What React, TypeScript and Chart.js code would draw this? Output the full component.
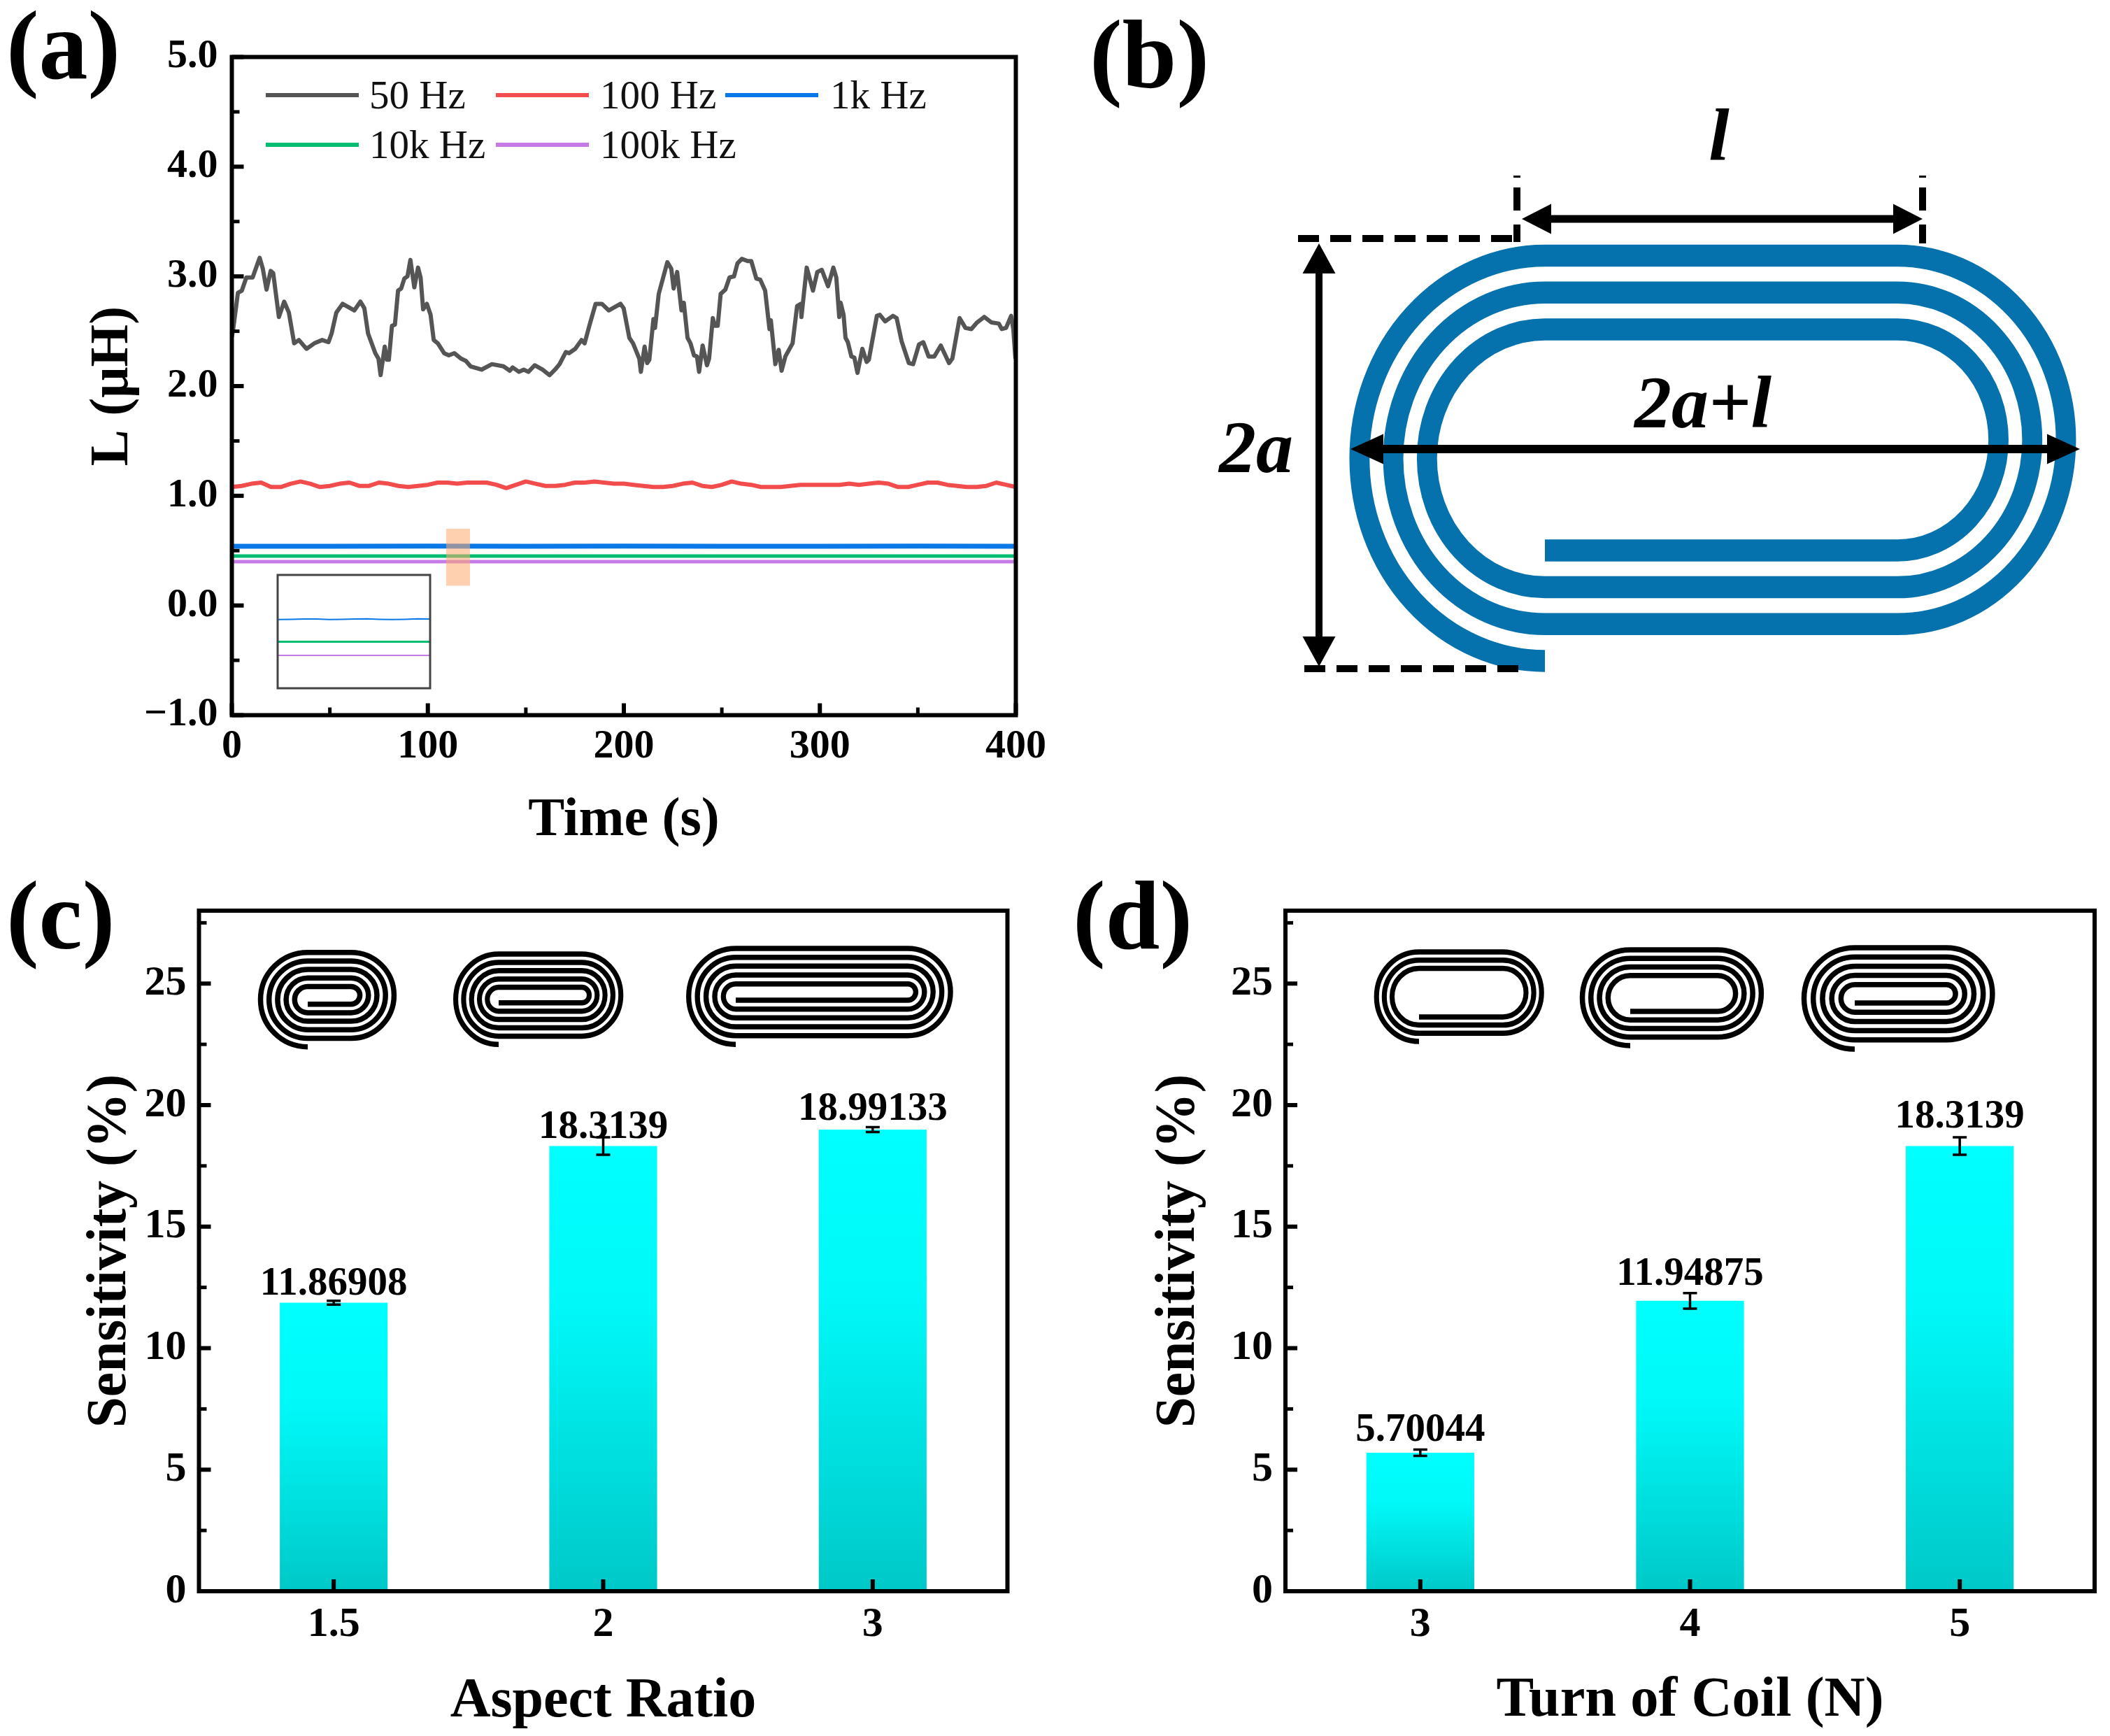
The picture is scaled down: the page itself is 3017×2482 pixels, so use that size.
import React, { useEffect, useRef } from "react";
import { Chart, registerables } from "chart.js";

Chart.register(...registerables);

const SERIF = '"Liberation Serif"';
const PAGE_W = 3017;
const PAGE_H = 2482;

// ---------- panel (a) data ----------
const seriesNames = ["50 Hz", "100 Hz", "1k Hz", "10k Hz", "100k Hz"];
const seriesColors = ["#555555", "#f24c4c", "#0a78e6", "#00bd72", "#c67ae6"];

const time50 = [0, 0.7, 3.1, 5.1, 7.4, 10.6, 14.2, 15.8, 17.7, 19.8, 21.1, 24, 26.7, 29.1, 31.8, 34.2, 38.1, 42.1, 46.1, 49.3, 50.9, 53.3, 56.5, 62.5, 65.6, 67.6, 69.5, 73.2, 74.8, 75.9, 78, 79.1, 80.1, 81.7, 83.2, 84.8, 86.4, 88, 89.6, 91.1, 93.1, 95, 96.3, 97.6, 99.5, 101.4, 103, 105.1, 108.3, 110.7, 113.5, 117, 119.4, 121.8, 127.4, 132.7, 138.6, 141.8, 143.3, 146.5, 148.9, 151.3, 154.5, 158.5, 162.1, 164.9, 167.2, 170.4, 172, 175.2, 178.4, 180, 182.4, 185.6, 188.8, 192.3, 198.3, 199.9, 202.8, 204.7, 207.9, 208.7, 210.6, 211.9, 213, 215.1, 215.9, 217.8, 222.2, 224.2, 225.4, 227.2, 229.4, 230.6, 232.5, 234, 235.8, 237.3, 238.4, 240.2, 242.4, 243.5, 245.4, 246.4, 247.9, 249.4, 251.8, 253.9, 256.2, 258, 260.2, 263.2, 265, 267.6, 269.6, 272.1, 274.3, 275, 277.3, 279, 280.5, 282.4, 286.1, 288.4, 290.3, 290.6, 293.3, 296.5, 298.7, 301, 304.2, 306.9, 308.4, 309.9, 310.6, 312.1, 313.1, 314.3, 316.1, 317.6, 319.2, 321.7, 323.9, 325, 329.1, 330.6, 333.3, 337.3, 339.2, 341.7, 345.4, 347.6, 350.6, 352.8, 355.5, 358.4, 361.7, 365.9, 367.6, 371.3, 374.3, 377.3, 380.2, 383.9, 387.6, 391.3, 392.8, 395, 397.6, 398.7, 399.8];
const l50 = [2.45, 2.52, 2.85, 2.87, 2.99, 2.99, 3.17, 3.07, 2.88, 3.05, 3.03, 2.63, 2.77, 2.67, 2.39, 2.42, 2.34, 2.39, 2.42, 2.4, 2.48, 2.67, 2.75, 2.69, 2.77, 2.71, 2.48, 2.3, 2.25, 2.1, 2.36, 2.24, 2.24, 2.55, 2.56, 2.87, 2.89, 2.98, 3, 3.15, 2.9, 3.08, 2.99, 2.7, 2.75, 2.65, 2.42, 2.39, 2.3, 2.28, 2.3, 2.25, 2.23, 2.18, 2.15, 2.2, 2.18, 2.14, 2.17, 2.13, 2.15, 2.13, 2.19, 2.15, 2.1, 2.15, 2.2, 2.31, 2.3, 2.34, 2.42, 2.39, 2.55, 2.75, 2.75, 2.69, 2.75, 2.71, 2.44, 2.39, 2.25, 2.13, 2.36, 2.21, 2.24, 2.61, 2.53, 2.84, 3.13, 3.07, 2.89, 3.04, 2.69, 2.76, 2.44, 2.39, 2.28, 2.27, 2.13, 2.37, 2.19, 2.25, 2.62, 2.55, 2.55, 2.84, 2.88, 2.99, 3, 3.12, 3.16, 3.14, 3.14, 2.98, 2.97, 2.87, 2.52, 2.6, 2.2, 2.33, 2.14, 2.27, 2.39, 2.73, 2.75, 2.63, 3.08, 2.87, 3.04, 3.06, 2.91, 3.08, 2.99, 2.63, 2.76, 2.65, 2.44, 2.4, 2.27, 2.26, 2.12, 2.34, 2.22, 2.24, 2.64, 2.65, 2.59, 2.64, 2.62, 2.41, 2.21, 2.2, 2.38, 2.4, 2.27, 2.27, 2.37, 2.21, 2.25, 2.62, 2.53, 2.52, 2.58, 2.63, 2.58, 2.57, 2.52, 2.53, 2.64, 2.52, 2.25];

const time100 = [0, 5, 10, 15, 20, 25, 30, 35, 40, 45, 50, 55, 60, 65, 70, 75, 80, 85, 90, 95, 100, 105, 110, 115, 120, 125, 130, 135, 140, 145, 150, 155, 160, 165, 170, 175, 180, 185, 190, 195, 200, 205, 210, 215, 220, 225, 230, 235, 240, 245, 250, 255, 260, 265, 270, 275, 280, 285, 290, 295, 300, 305, 310, 315, 320, 325, 330, 335, 340, 345, 350, 355, 360, 365, 370, 375, 380, 385, 390, 395, 400];
const l100 = [1.08, 1.09, 1.11, 1.12, 1.08, 1.08, 1.11, 1.13, 1.11, 1.08, 1.09, 1.11, 1.12, 1.09, 1.09, 1.12, 1.11, 1.09, 1.08, 1.09, 1.1, 1.12, 1.12, 1.11, 1.12, 1.12, 1.12, 1.1, 1.07, 1.1, 1.13, 1.11, 1.09, 1.09, 1.1, 1.12, 1.12, 1.13, 1.12, 1.11, 1.11, 1.1, 1.09, 1.08, 1.08, 1.09, 1.11, 1.12, 1.09, 1.08, 1.1, 1.13, 1.11, 1.1, 1.08, 1.08, 1.08, 1.09, 1.1, 1.1, 1.1, 1.1, 1.1, 1.11, 1.1, 1.11, 1.12, 1.11, 1.08, 1.08, 1.1, 1.12, 1.12, 1.1, 1.09, 1.08, 1.08, 1.09, 1.12, 1.1, 1.08];

const timeFlat = [0, 50, 100, 150, 200, 250, 300, 350, 400];
const l1k = [0.54, 0.54, 0.541, 0.54, 0.541, 0.54, 0.54, 0.541, 0.54];
const l10k = [0.45, 0.45, 0.45, 0.451, 0.45, 0.45, 0.451, 0.45, 0.45];
const l100k = [0.4, 0.4, 0.4, 0.4, 0.4, 0.4, 0.4, 0.4, 0.4];

const insetTime = [109.4, 110.5, 111.5, 112.5, 113.5, 114.5, 115.5, 116.5, 117.5, 118.5, 119.5, 120.5, 121.5];
const inset1k = [0.5385, 0.5395, 0.541, 0.5405, 0.5385, 0.5395, 0.5405, 0.5412, 0.5395, 0.5385, 0.5395, 0.5412, 0.5405];
const inset10k = [0.4525, 0.4525, 0.4525, 0.4525, 0.4525, 0.4525, 0.4525, 0.4525, 0.4525, 0.4525, 0.4525, 0.4525, 0.4525];
const inset100k = [0.4, 0.4, 0.4, 0.4, 0.4, 0.4, 0.4, 0.4, 0.4, 0.4, 0.4, 0.4, 0.4];

const aXMinor = [50, 150, 250, 350];
const aYMinor = [-0.5, 0.5, 1.5, 2.5, 3.5, 4.5];
const highlightT = [109.4, 121.5];
const highlightL = [0.18, 0.7];

// ---------- panels (c) and (d) data ----------
const aspectLabels = ["1.5", "2", "3"];
const aspectValues = [11.86908, 18.3139, 18.99133];
const aspectErrors = [0.08, 0.36, 0.1];
const turnLabels = ["3", "4", "5"];
const turnValues = [5.70044, 11.94875, 18.3139];
const turnErrors = [0.13, 0.32, 0.36];
const barYMinor = [2.5, 7.5, 12.5, 17.5, 22.5, 27.5];

type Box = { left: number; right: number; top: number; bottom: number; yW: number; xH: number };

const font = (size: number, weight = "bold", style = "normal") => ({ family: SERIF, size, weight, style, lineHeight: 1.2 });

function layoutOf(b: Box) {
  return {
    autoPadding: false,
    padding: {
      left: b.left - b.yW,
      top: b.top,
      right: PAGE_W - b.right,
      bottom: PAGE_H - b.bottom - b.xH,
    },
  };
}

function frameTicks(xMinor: number[], yMinor: number[]) {
  return {
    id: "frameTicks",
    afterDatasetsDraw(chart: any) {
      const { ctx, chartArea: a, scales } = chart;
      ctx.save();
      ctx.strokeStyle = "#000";
      ctx.lineCap = "butt";
      const tick = (x1: number, y1: number, x2: number, y2: number, w: number) => {
        ctx.lineWidth = w;
        ctx.beginPath();
        ctx.moveTo(x1, y1);
        ctx.lineTo(x2, y2);
        ctx.stroke();
      };
      scales.y.ticks.forEach((_: any, i: number) => {
        const p = scales.y.getPixelForTick(i);
        tick(a.left, p, a.left + 17, p, 6);
      });
      yMinor.forEach((v) => {
        const p = scales.y.getPixelForValue(v);
        tick(a.left, p, a.left + 11, p, 5);
      });
      scales.x.ticks.forEach((_: any, i: number) => {
        const p = scales.x.getPixelForTick(i);
        tick(p, a.bottom, p, a.bottom - 17, 6);
      });
      xMinor.forEach((v) => {
        const p = scales.x.getPixelForValue(v);
        tick(p, a.bottom, p, a.bottom - 11, 5);
      });
      ctx.lineWidth = 6;
      ctx.strokeRect(a.left, a.top, a.right - a.left, a.bottom - a.top);
      ctx.restore();
    },
  };
}

const legendPlugin = {
  id: "inlineLegend",
  afterDatasetsDraw(chart: any) {
    const { ctx } = chart;
    const spots = [
      [380, 136, 528],
      [709, 136, 858],
      [1037, 136, 1187],
      [380, 207, 528],
      [709, 207, 858],
    ];
    ctx.save();
    ctx.font = `normal 57px ${SERIF}`;
    ctx.textBaseline = "middle";
    ctx.textAlign = "left";
    chart.data.datasets.forEach((d: any, i: number) => {
      const [x, y, tx] = spots[i];
      ctx.strokeStyle = d.borderColor;
      ctx.lineWidth = 6;
      ctx.beginPath();
      ctx.moveTo(x, y);
      ctx.lineTo(x + 133, y);
      ctx.stroke();
      ctx.fillStyle = "#111";
      ctx.fillText(d.label, tx, y + 4);
    });
    ctx.restore();
  },
};

const highlightPlugin = {
  id: "highlight",
  afterDatasetsDraw(chart: any) {
    const { ctx, scales } = chart;
    const x1 = scales.x.getPixelForValue(highlightT[0]);
    const x2 = scales.x.getPixelForValue(highlightT[1]);
    const y1 = scales.y.getPixelForValue(highlightL[1]);
    const y2 = scales.y.getPixelForValue(highlightL[0]);
    ctx.save();
    ctx.fillStyle = "rgba(253,170,110,0.55)";
    ctx.fillRect(x1, y1, x2 - x1, y2 - y1);
    ctx.restore();
  },
};

function barExtras(errors: number[], gaps: number[], fromError: boolean) {
  return {
    id: "barExtras",
    afterDatasetsDraw(chart: any) {
      const { ctx, scales } = chart;
      const values = chart.data.datasets[0].data as number[];
      ctx.save();
      ctx.strokeStyle = "#000";
      ctx.fillStyle = "#000";
      values.forEach((v, i) => {
        const x = scales.x.getPixelForValue(i);
        const hi = scales.y.getPixelForValue(v + errors[i]);
        const lo = scales.y.getPixelForValue(v - errors[i]);
        ctx.lineWidth = 3.5;
        ctx.beginPath();
        ctx.moveTo(x, hi);
        ctx.lineTo(x, lo);
        ctx.moveTo(x - 10, hi);
        ctx.lineTo(x + 10, hi);
        ctx.moveTo(x - 10, lo);
        ctx.lineTo(x + 10, lo);
        ctx.stroke();
        ctx.font = `bold 57px ${SERIF}`;
        ctx.textAlign = "center";
        ctx.textBaseline = "alphabetic";
        const anchor = fromError ? hi : scales.y.getPixelForValue(v);
        ctx.fillText(String(v), x, anchor - gaps[i]);
      });
      ctx.restore();
    },
  };
}

function barGradient(c: any) {
  const chart = c.chart;
  const fallback = "#00ffff";
  if (!chart.chartArea || c.dataIndex === undefined) return fallback;
  const v = c.dataset.data[c.dataIndex];
  const top = chart.scales.y.getPixelForValue(v);
  const base = chart.scales.y.getPixelForValue(0);
  if (!Number.isFinite(top) || !Number.isFinite(base)) return fallback;
  const g = chart.ctx.createLinearGradient(0, top, 0, base);
  g.addColorStop(0, "#00ffff");
  g.addColorStop(0.36, "#00f8f8");
  g.addColorStop(1, "#00c8c8");
  return g;
}

type Coil = { xl: number; xr: number; top: number; endY: number; pitch: number; turns: number; xs: number; lw: number };

function drawCoil(ctx: CanvasRenderingContext2D, c: Coil, color: string) {
  ctx.save();
  ctx.scale(c.xs, 1);
  const xl = c.xl / c.xs;
  const xr = c.xr / c.xs;
  ctx.strokeStyle = color;
  ctx.lineWidth = c.lw;
  ctx.lineCap = "butt";
  ctx.lineJoin = "round";
  ctx.beginPath();
  ctx.moveTo(xl, c.endY);
  for (let k = 0; k < c.turns; k++) {
    const bPrev = c.endY - k * c.pitch;
    const t = c.top + k * c.pitch;
    ctx.arc(xl, (bPrev + t) / 2, (bPrev - t) / 2, Math.PI / 2, (3 * Math.PI) / 2);
    ctx.lineTo(xr, t);
    const b = c.endY - (k + 1) * c.pitch;
    ctx.arc(xr, (b + t) / 2, (b - t) / 2, -Math.PI / 2, Math.PI / 2);
    ctx.lineTo(xl, b);
  }
  ctx.stroke();
  ctx.restore();
}

function coilsPlugin(coils: Coil[]) {
  return {
    id: "coils",
    afterDraw(chart: any) {
      coils.forEach((c) => drawCoil(chart.ctx, c, "#000"));
    },
  };
}

function arrow(ctx: CanvasRenderingContext2D, x1: number, y1: number, x2: number, y2: number, lw: number, hl: number, hw: number) {
  const a = Math.atan2(y2 - y1, x2 - x1);
  const ux = Math.cos(a);
  const uy = Math.sin(a);
  ctx.lineWidth = lw;
  ctx.beginPath();
  ctx.moveTo(x1 + ux * hl * 0.8, y1 + uy * hl * 0.8);
  ctx.lineTo(x2 - ux * hl * 0.8, y2 - uy * hl * 0.8);
  ctx.stroke();
  const head = (x: number, y: number, dx: number, dy: number) => {
    ctx.beginPath();
    ctx.moveTo(x, y);
    ctx.lineTo(x - dx * hl - dy * hw * 0.5, y - dy * hl + dx * hw * 0.5);
    ctx.lineTo(x - dx * hl + dy * hw * 0.5, y - dy * hl - dx * hw * 0.5);
    ctx.closePath();
    ctx.fill();
  };
  head(x2, y2, ux, uy);
  head(x1, y1, -ux, -uy);
}

const diagramPlugin = {
  id: "diagram",
  afterDraw(chart: any) {
    const ctx: CanvasRenderingContext2D = chart.ctx;
    ctx.save();
    ctx.fillStyle = "#000";
    ctx.textAlign = "left";
    ctx.textBaseline = "alphabetic";
    ctx.font = `bold 140px ${SERIF}`;
    ctx.fillText("(a)", 9, 112);
    ctx.fillText("(b)", 1558, 125);
    ctx.fillText("(c)", 9, 1356);
    ctx.fillText("(d)", 1534, 1356);

    drawCoil(ctx, { xl: 2209, xr: 2713, top: 365.5, endY: 945, pitch: 52.7, turns: 3, xs: 0.915, lw: 31.5 }, "#0571ad");

    ctx.strokeStyle = "#000";
    const dashed = (x1: number, y1: number, x2: number, y2: number, pattern: number[]) => {
      ctx.lineWidth = 10;
      ctx.setLineDash(pattern);
      ctx.beginPath();
      ctx.moveTo(x1, y1);
      ctx.lineTo(x2, y2);
      ctx.stroke();
      ctx.setLineDash([]);
    };
    dashed(1856, 341, 2173, 341, [30, 16]);
    dashed(1865, 956, 2173, 956, [30, 16]);
    dashed(2169, 251, 2169, 346, [3, 14, 33, 20, 30]);
    dashed(2749, 251, 2749, 348, [3, 14, 33, 20, 30]);
    arrow(ctx, 1886, 348, 1886, 953, 10, 43, 47);
    arrow(ctx, 2176, 313, 2749, 313, 11, 42, 43);
    arrow(ctx, 1931, 642, 2974, 642, 12, 47, 43);

    ctx.font = `italic bold 106px ${SERIF}`;
    ctx.textAlign = "center";
    ctx.fillText("l", 2458, 229);
    ctx.fillText("2a+l", 2435, 611);
    ctx.fillText("2a", 1796, 675);
    ctx.restore();
  },
};

const coilsC: Coil[] = [
  { xl: 440, xr: 502, top: 1361.7, endY: 1496.7, pitch: 12.2, turns: 5, xs: 1, lw: 7.5 },
  { xl: 713, xr: 832, top: 1364, endY: 1493.3, pitch: 11.9, turns: 5, xs: 0.95, lw: 7.5 },
  { xl: 1052, xr: 1298, top: 1356, endY: 1493.3, pitch: 12.66, turns: 5, xs: 0.98, lw: 7.5 },
];
const coilsD: Coil[] = [
  { xl: 2029, xr: 2149, top: 1361, endY: 1489, pitch: 11.7, turns: 3, xs: 0.95, lw: 7.5 },
  { xl: 2331, xr: 2456, top: 1358, endY: 1495, pitch: 12.25, turns: 4, xs: 1, lw: 7.5 },
  { xl: 2652, xr: 2783, top: 1355, endY: 1500, pitch: 13.2, turns: 5, xs: 1, lw: 7.5 },
];

function barChart(canvas: HTMLCanvasElement, box: Box, labels: string[], values: number[], errors: number[], gaps: number[], fromError: boolean, xTitle: string, xTitleSize: number, yTitlePad: number, coils: Coil[]) {
  return new Chart(canvas, {
    type: "bar",
    data: {
      labels,
      datasets: [{ data: values, backgroundColor: barGradient as any, borderWidth: 0, categoryPercentage: 1, barPercentage: 0.4 }],
    },
    plugins: [barExtras(errors, gaps, fromError), frameTicks([], barYMinor), coilsPlugin(coils)] as any,
    options: {
      animation: false,
      responsive: false,
      maintainAspectRatio: false,
      devicePixelRatio: 1,
      events: [],
      layout: layoutOf(box) as any,
      plugins: { legend: { display: false }, tooltip: { enabled: false } },
      scales: {
        x: {
          type: "category",
          offset: true,
          afterFit: (s: any) => { s.height = box.xH; },
          grid: { display: false },
          border: { display: false },
          ticks: { color: "#000", font: font(60), padding: 4, maxRotation: 0, autoSkip: false },
          title: { display: true, text: xTitle, color: "#000", font: font(xTitleSize), padding: { top: 0, bottom: 1 } },
        },
        y: {
          type: "linear",
          min: 0,
          max: 28,
          afterFit: (s: any) => { s.width = box.yW; },
          grid: { display: false },
          border: { display: false },
          ticks: { stepSize: 5, includeBounds: false, color: "#000", font: font(60), padding: 10, autoSkip: false } as any,
          title: { display: true, text: "Sensitivity (%)", color: "#000", font: font(79.5), padding: { top: yTitlePad, bottom: 0 } },
        },
      },
    },
  } as any);
}

export default function App() {
  const aRef = useRef<HTMLCanvasElement>(null);
  const insetRef = useRef<HTMLCanvasElement>(null);
  const bRef = useRef<HTMLCanvasElement>(null);
  const cRef = useRef<HTMLCanvasElement>(null);
  const dRef = useRef<HTMLCanvasElement>(null);

  useEffect(() => {
    const zip = (xs: number[], ys: number[]) => xs.map((x, i) => ({ x, y: ys[i] }));
    const line = (i: number, xs: number[], ys: number[], w: number) => ({
      label: seriesNames[i],
      data: zip(xs, ys),
      borderColor: seriesColors[i],
      borderWidth: w,
      borderJoinStyle: "round",
      pointRadius: 0,
      tension: 0,
      fill: false,
    });

    const boxA: Box = { left: 331.5, right: 1452.5, top: 81.5, bottom: 1022.5, yW: 300, xH: 220 };
    const chartA = new Chart(aRef.current!, {
      type: "line",
      data: {
        datasets: [
          line(0, time50, l50, 6),
          line(1, time100, l100, 6),
          line(2, timeFlat, l1k, 7),
          line(3, timeFlat, l10k, 5),
          line(4, timeFlat, l100k, 5),
        ],
      },
      plugins: [highlightPlugin, legendPlugin, frameTicks(aXMinor, aYMinor)] as any,
      options: {
        animation: false,
        responsive: false,
        maintainAspectRatio: false,
        devicePixelRatio: 1,
        events: [],
        layout: layoutOf(boxA) as any,
        plugins: { legend: { display: false }, tooltip: { enabled: false } },
        scales: {
          x: {
            type: "linear",
            min: 0,
            max: 400,
            afterFit: (s: any) => { s.height = boxA.xH; },
            grid: { display: false },
            border: { display: false },
            ticks: { stepSize: 100, color: "#000", font: font(58), padding: 3, maxRotation: 0, autoSkip: false },
            title: { display: true, text: "Time (s)", color: "#000", font: font(78), padding: { top: 0, bottom: 22 } },
          },
          y: {
            type: "linear",
            min: -1,
            max: 5,
            afterFit: (s: any) => { s.width = boxA.yW; },
            grid: { display: false },
            border: { display: false },
            ticks: {
              stepSize: 1,
              color: "#000",
              font: font(58),
              padding: 12,
              autoSkip: false,
              callback: (v: any) => (v < 0 ? "\u2212" + Math.abs(v).toFixed(1) : Number(v).toFixed(1)),
            },
            title: { display: true, text: "L (\u03bcH)", color: "#000", font: font(78), padding: { top: 84, bottom: 0 } },
          },
        },
      },
    } as any);

    const insetLine = (i: number, ys: number[], w: number) => line(i, insetTime, ys, w);
    const chartInset = new Chart(insetRef.current!, {
      type: "line",
      data: { datasets: [insetLine(2, inset1k, 2), insetLine(3, inset10k, 3), insetLine(4, inset100k, 2)] },
      plugins: [
        {
          id: "insetFrame",
          afterDatasetsDraw(chart: any) {
            const { ctx, chartArea: a } = chart;
            ctx.save();
            ctx.strokeStyle = "#444";
            ctx.lineWidth = 3;
            ctx.strokeRect(a.left, a.top, a.right - a.left, a.bottom - a.top);
            ctx.restore();
          },
        },
      ] as any,
      options: {
        animation: false,
        responsive: false,
        maintainAspectRatio: false,
        devicePixelRatio: 1,
        events: [],
        layout: { autoPadding: false, padding: { left: 397, top: 822, right: PAGE_W - 615, bottom: PAGE_H - 984 } },
        plugins: { legend: { display: false }, tooltip: { enabled: false } },
        scales: {
          x: { type: "linear", display: false, min: 109.4, max: 121.5 },
          y: { type: "linear", display: false, min: 0.273, max: 0.711 },
        },
      },
    } as any);

    const chartB = new Chart(bRef.current!, {
      type: "scatter",
      data: { datasets: [] },
      plugins: [diagramPlugin] as any,
      options: {
        animation: false,
        responsive: false,
        maintainAspectRatio: false,
        devicePixelRatio: 1,
        events: [],
        plugins: { legend: { display: false }, tooltip: { enabled: false } },
        scales: { x: { display: false }, y: { display: false } },
      },
    } as any);

    const boxC: Box = { left: 284.5, right: 1440.5, top: 1302, bottom: 2275, yW: 260, xH: 207 };
    const chartC = barChart(cRef.current!, boxC, aspectLabels, aspectValues, aspectErrors, [12, 12, 14], false, "Aspect Ratio", 80, 86.5, coilsC);

    const boxD: Box = { left: 1838, right: 2995, top: 1302, bottom: 2275, yW: 260, xH: 207 };
    const chartD = barChart(dRef.current!, boxD, turnLabels, turnValues, turnErrors, [12, 12, 14], true, "Turn of Coil (N)", 80.5, 61, coilsD);

    return () => {
      chartA.destroy();
      chartInset.destroy();
      chartB.destroy();
      chartC.destroy();
      chartD.destroy();
    };
  }, []);

  const layer: React.CSSProperties = { position: "absolute", left: 0, top: 0 };
  return (
    <div style={{ position: "absolute", left: 0, top: 0, width: PAGE_W, height: PAGE_H, background: "#fff", overflow: "hidden" }}>
      <canvas ref={aRef} width={PAGE_W} height={PAGE_H} style={layer} />
      <canvas ref={insetRef} width={PAGE_W} height={PAGE_H} style={layer} />
      <canvas ref={bRef} width={PAGE_W} height={PAGE_H} style={layer} />
      <canvas ref={cRef} width={PAGE_W} height={PAGE_H} style={layer} />
      <canvas ref={dRef} width={PAGE_W} height={PAGE_H} style={layer} />
    </div>
  );
}
